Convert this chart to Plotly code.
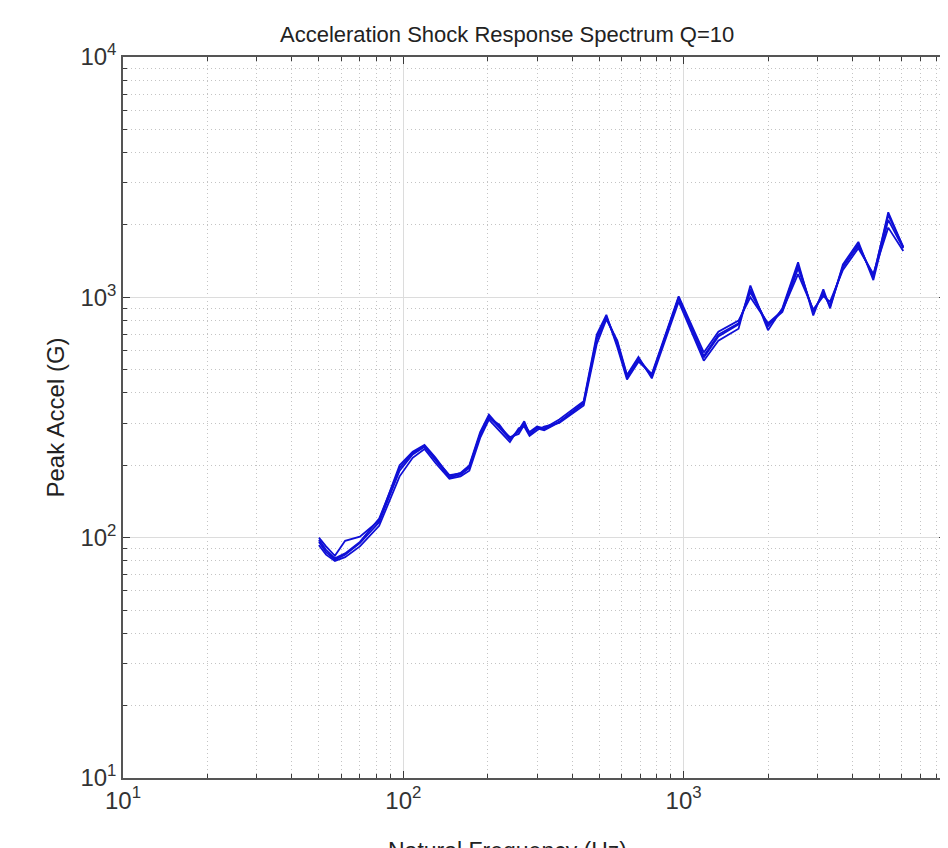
import plotly.graph_objects as go

# Natural frequency (Hz)
freq = [50, 53, 57, 62, 70, 82, 97, 108, 119, 130, 146, 160, 172, 188, 202, 220, 240, 258,
        270, 282, 300, 318, 360, 440, 490, 530, 580, 628, 690, 770, 960, 1180, 1330, 1570,
        1730, 2000, 2250, 2560, 2900, 3150, 3330, 3700, 4200, 4750, 5370, 6075]

# Peak acceleration (G) for each measured channel
srs_1 = [96, 87, 81, 85, 95, 116, 190, 222, 239, 211, 178, 183, 195, 268, 319, 287, 256, 277,
         301, 268, 287, 282, 304, 362, 668, 826, 637, 464, 552, 469, 1000, 562, 688, 772,
         1080, 757, 891, 1359, 866, 1049, 917, 1334, 1664, 1212, 2260, 1616]
srs_2 = [100, 92, 84, 97, 101, 118, 200, 228, 243, 216, 180, 186, 200, 275, 325, 290, 262, 270,
         295, 275, 290, 285, 310, 370, 700, 845, 620, 455, 540, 480, 1010, 590, 720, 800,
         1000, 780, 880, 1250, 890, 1010, 960, 1300, 1600, 1250, 1950, 1560]
srs_3 = [93, 85, 80, 83, 92, 112, 180, 215, 234, 205, 176, 180, 190, 260, 310, 280, 250, 285,
         290, 265, 280, 290, 300, 355, 640, 810, 660, 475, 565, 460, 960, 545, 660, 740,
         1120, 730, 900, 1400, 840, 1080, 900, 1370, 1700, 1180, 2100, 1600]
srs_4 = [98, 89, 82, 86, 96, 120, 195, 225, 240, 212, 182, 185, 198, 270, 315, 295, 258, 280,
         305, 270, 285, 280, 302, 365, 680, 830, 650, 470, 555, 475, 990, 570, 700, 780,
         1050, 770, 870, 1320, 880, 1030, 930, 1340, 1640, 1230, 2200, 1620]

decade_vals = [10, 100, 1000, 10000]
decade_text = ["10<sup>1</sup>", "10<sup>2</sup>", "10<sup>3</sup>", "10<sup>4</sup>"]

title_text = "Acceleration Shock Response Spectrum Q=10"
x_title = "Natural Frequency (Hz)"
y_title = "Peak Accel (G)"

minor_vals = [m * d for d in [10, 100, 1000] for m in range(2, 10)]

fig = go.Figure()
for s in [srs_1, srs_2, srs_3, srs_4]:
    fig.add_trace(go.Scatter(x=freq, y=s, mode="lines",
                             line=dict(color="rgb(15,15,215)", width=1.8),
                             showlegend=False, hoverinfo="skip"))

FONT = "Liberation Sans, Arial, sans-serif"
axis_common = dict(
    type="log",
    tickmode="array",
    tickvals=decade_vals,
    ticktext=decade_text,
    ticks="inside",
    ticklen=7,
    tickcolor="#3a3a3a",
    showline=True,
    linecolor="#555555",
    linewidth=1.5,
    mirror="ticks",
    showgrid=True,
    gridcolor="#dcdcdc",
    gridwidth=1,
    zeroline=False,
    tickfont=dict(family=FONT, size=24, color="#333333"),
    minor=dict(tickmode="array", tickvals=minor_vals, ticks="inside", ticklen=4,
               tickcolor="#3a3a3a", showgrid=True, gridcolor="#c4c4c4", griddash="1px,3px",
               gridwidth=1),
)

# page body has an 8px margin, so the figure is offset by (8, 8)
W, H = 940, 840
L, T, B = 115, 49, 70
plot_w = W - L

fig.update_layout(
    width=W, height=H,
    paper_bgcolor="white", plot_bgcolor="white",
    margin=dict(l=L, r=0, t=T, b=B),
    xaxis=dict(axis_common, range=[1, 1 + plot_w / 281]),
    yaxis=dict(axis_common, range=[1, 4]),
    annotations=[
        dict(text=title_text, xref="paper", yref="paper", x=(508 - 123) / plot_w, y=1,
             yshift=8, xanchor="center", yanchor="bottom", showarrow=False,
             font=dict(family=FONT, size=22, color="#222222")),
        dict(text=x_title, xref="paper", yref="paper", x=(508 - 123) / plot_w, y=0,
             yshift=-58, xanchor="center", yanchor="top", showarrow=False,
             font=dict(family=FONT, size=23, color="#222222")),
        dict(text=y_title, xref="paper", yref="paper", x=0, xshift=-68, y=0.5,
             xanchor="center", yanchor="middle", textangle=-90, showarrow=False,
             font=dict(family=FONT, size=24, color="#222222")),
    ],
)

fig.write_html("out.html")
